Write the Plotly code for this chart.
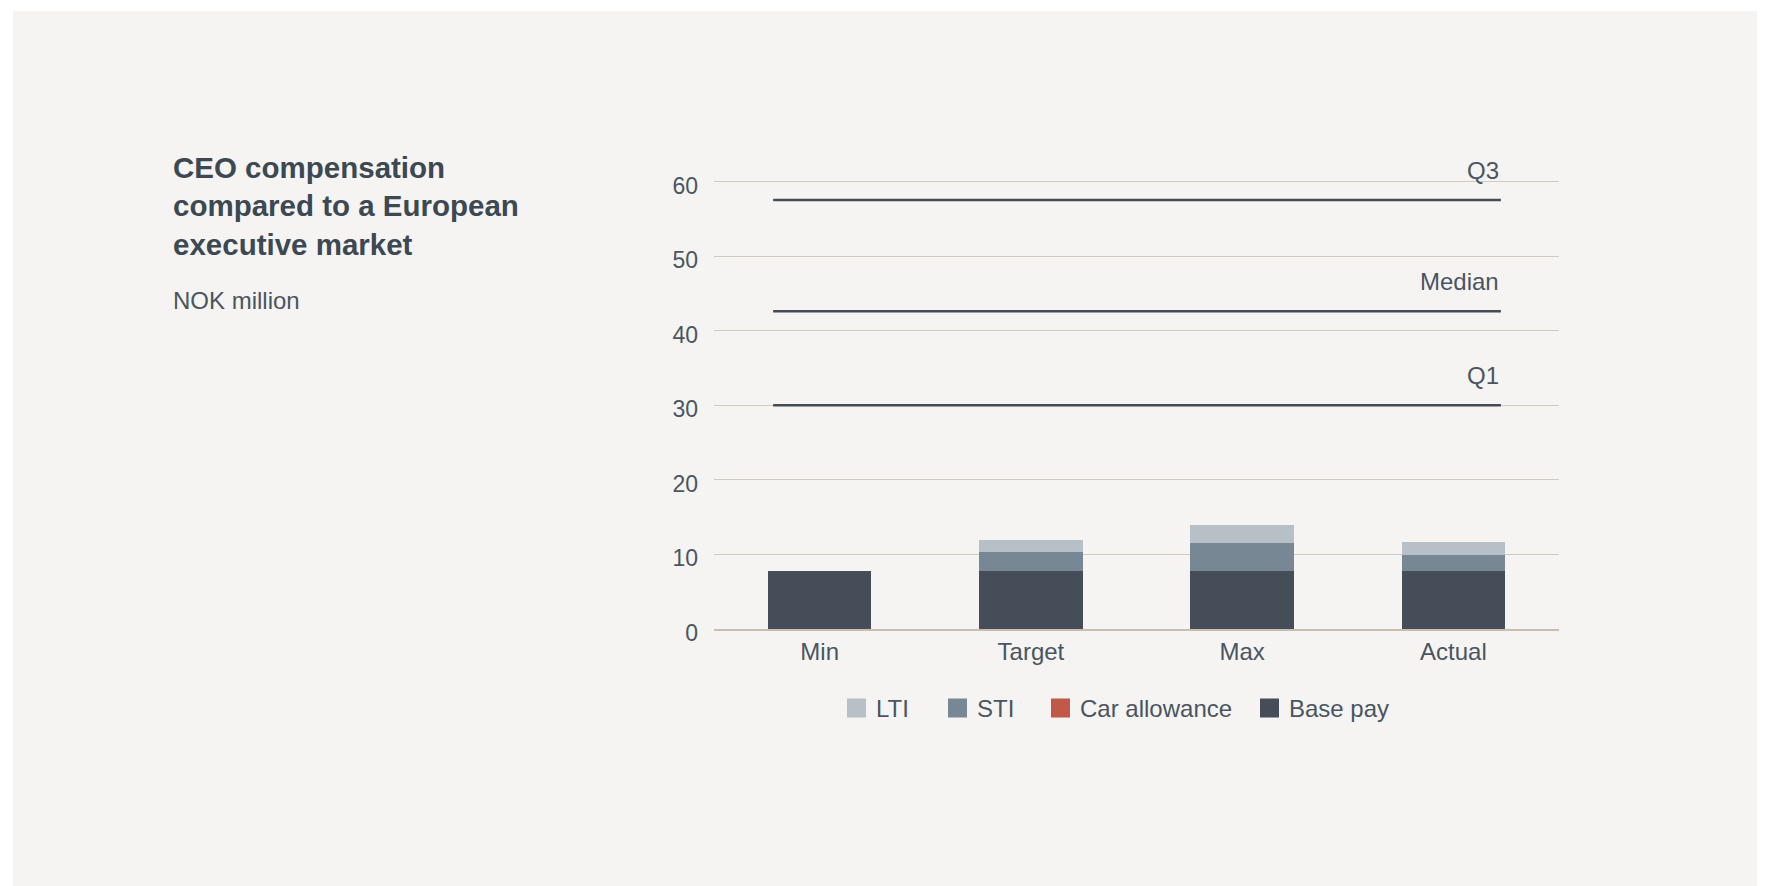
import plotly.graph_objects as go

# ---------------- data ----------------
categories = ["Min", "Target", "Max", "Actual"]
base_pay = [7.8, 7.8, 7.8, 7.8]
car_allowance = [0.0, 0.0, 0.0, 0.0]
sti = [0.0, 2.5, 3.7, 2.1]
lti = [0.0, 1.6, 2.4, 1.75]

ref_names = ["Q1", "Median", "Q3"]
ref_values = [30.0, 42.6, 57.5]

series_names = ["Base pay", "Car allowance", "STI", "LTI"]
series_values = [base_pay, car_allowance, sti, lti]
series_colors = ["#454d58", "#bf5948", "#778794", "#b7bfc7"]

y_ticks = [0, 10, 20, 30, 40, 50, 60]

title_lines = ["CEO compensation", "compared to a European", "executive market"]
subtitle = "NOK million"

# ---------------- layout constants (page pixels) ----------------
W_PX, H_PX = 1765, 886
OFF = 8                      # default body margin of the html page
Y_MAX = 61
PLOT_L, PLOT_T, PW, PH = 714, 174, 845, 455   # plot area in page pixels
L = PLOT_L - OFF
T = PLOT_T - OFF
R = W_PX - L - PW
B = H_PX - T - PH

def px2x(px):
    return (px - PLOT_L) / PW

def py2y(py):
    return (PLOT_T + PH - py) / PH

TEXT = "#4a5561"
TITLE = "#3c4852"
FONT = "Arial, Liberation Sans, sans-serif"

fig = go.Figure()

for name, vals, col in zip(series_names, series_values, series_colors):
    fig.add_trace(go.Bar(
        x=categories, y=vals, name=name,
        marker=dict(color=col, line=dict(width=0)),
        width=0.49, showlegend=False, hoverinfo="x+y+name",
    ))

shapes = []
annotations = []

# page background (grey card with thin white border at top/left)
shapes.append(dict(type="rect", xref="paper", yref="paper",
                   x0=px2x(13), x1=px2x(1900), y0=py2y(1000), y1=py2y(11),
                   fillcolor="#f5f4f2", line=dict(width=0), layer="below"))

# reference lines (Q1 / Median / Q3)
LINE_X0, LINE_X1 = -0.22, 3.225
for nm, v in zip(ref_names, ref_values):
    shapes.append(dict(type="line", xref="x", yref="y",
                       x0=LINE_X0, x1=LINE_X1, y0=v, y1=v,
                       line=dict(color="#444c56", width=2.5)))
    annotations.append(dict(xref="x", yref="y", x=LINE_X1, y=v,
                            text=nm, showarrow=False, xanchor="right",
                            yanchor="bottom", yshift=14,
                            font=dict(family=FONT, size=24, color=TEXT)))

# title & subtitle
annotations.append(dict(xref="paper", yref="paper", x=px2x(171), y=py2y(149),
                        xanchor="left", yanchor="top", align="left",
                        text="<b>" + "<br>".join(title_lines) + "</b>",
                        showarrow=False,
                        font=dict(family=FONT, size=29.5, color=TITLE)))
annotations.append(dict(xref="paper", yref="paper", x=px2x(171), y=py2y(285),
                        xanchor="left", yanchor="top", align="left",
                        text=subtitle, showarrow=False,
                        font=dict(family=FONT, size=24, color=TEXT)))

# custom legend (reverse stacking order)
LEGEND_X_PX = [847, 948, 1051, 1260]
LEGEND_Y_PX = 708
SW = 19
for (nm, col), lx in zip(list(zip(series_names, series_colors))[::-1], LEGEND_X_PX):
    shapes.append(dict(type="rect", xref="paper", yref="paper",
                       x0=px2x(lx), x1=px2x(lx + SW),
                       y0=py2y(LEGEND_Y_PX + SW / 2), y1=py2y(LEGEND_Y_PX - SW / 2),
                       fillcolor=col, line=dict(width=0)))
    annotations.append(dict(xref="paper", yref="paper", x=px2x(lx + SW + 8),
                            y=py2y(LEGEND_Y_PX), xanchor="left", yanchor="middle",
                            text=nm, showarrow=False,
                            font=dict(family=FONT, size=24, color=TEXT)))

fig.update_layout(
    width=W_PX, height=H_PX,
    margin=dict(l=L, r=R, t=T, b=B, pad=0),
    paper_bgcolor="#ffffff",
    plot_bgcolor="rgba(0,0,0,0)",
    barmode="stack",
    showlegend=False,
    shapes=shapes,
    annotations=annotations,
    font=dict(family=FONT, size=24, color=TEXT),
    xaxis=dict(
        range=[-0.5, 3.5], showgrid=False, ticks="",
        showline=True, linecolor="#c9bcb0", linewidth=2,
        tickfont=dict(family=FONT, size=24, color=TEXT),
        fixedrange=True,
    ),
    yaxis=dict(
        range=[0, Y_MAX], tickvals=y_ticks, showgrid=True,
        gridcolor="#d3c9bf", gridwidth=1, zeroline=False, showline=False,
        ticks="", tickfont=dict(family=FONT, size=23, color=TEXT),
        ticklabelstandoff=15, ticklabelshift=4, fixedrange=True,
    ),
)

fig.write_html("out.html")
